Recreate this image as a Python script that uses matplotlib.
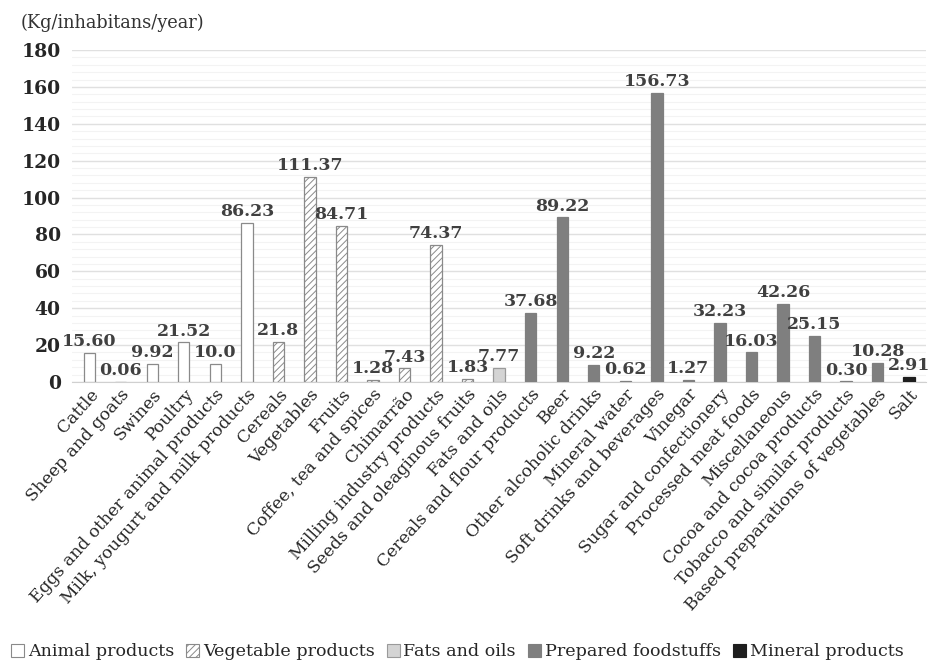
import matplotlib
matplotlib.use("Agg")
import matplotlib.pyplot as plt
from matplotlib.patches import Patch
import numpy as np

categories = ["Cattle", "Sheep and goats", "Swines", "Poultry",
              "Eggs and other animal products", "Milk, yougurt and milk products",
              "Cereals", "Vegetables", "Fruits", "Coffee, tea and spices", "Chimarrão",
              "Milling industry products", "Seeds and oleaginous fruits",
              "Fats and oils", "Cereals and flour products", "Beer",
              "Other alcoholic drinks", "Mineral water", "Soft drinks and beverages",
              "Vinegar", "Sugar and confectionery", "Processed meat foods",
              "Miscellaneous", "Cocoa and cocoa products", "Tobacco and similar products",
              "Based preparations of vegetables", "Salt"]
values = [15.60, 0.06, 9.92, 21.52, 10.0, 86.23,
          21.8, 111.37, 84.71, 1.28, 7.43, 74.37, 1.83,
          7.77, 37.68, 89.22, 9.22, 0.62, 156.73, 1.27, 32.23, 16.03, 42.26,
          25.15, 0.30, 10.28, 2.91]
value_labels = ["15.60", "0.06", "9.92", "21.52", "10.0", "86.23",
                "21.8", "111.37", "84.71", "1.28", "7.43", "74.37", "1.83",
                "7.77", "37.68", "89.22", "9.22", "0.62", "156.73", "1.27", "32.23",
                "16.03", "42.26", "25.15", "0.30", "10.28", "2.91"]
groups = (["Animal products"] * 6 + ["Vegetable products"] * 7 + ["Fats and oils"]
          + ["Prepared foodstuffs"] * 12 + ["Mineral products"])
group_names = ["Animal products", "Vegetable products", "Fats and oils",
               "Prepared foodstuffs", "Mineral products"]

styles = {
    "Animal products": dict(facecolor="white", edgecolor="#8a8a8a", hatch=None),
    "Vegetable products": dict(facecolor="white", edgecolor="#8a8a8a", hatch="/////"),
    "Fats and oils": dict(facecolor="#d4d4d4", edgecolor="#9a9a9a", hatch=None),
    "Prepared foodstuffs": dict(facecolor="#7f7f7f", edgecolor="#7f7f7f", hatch=None),
    "Mineral products": dict(facecolor="#1e1e1e", edgecolor="#1e1e1e", hatch=None),
}

plt.rcParams["font.family"] = ["DejaVu Serif"]
plt.rcParams["hatch.linewidth"] = 0.7

fig = plt.figure(figsize=(9.33, 6.64), dpi=100)
ax = fig.add_axes([0.077, 0.4247, 0.916, 0.5])

x = np.arange(len(categories))
for xi, v, g in zip(x, values, groups):
    st = styles[g]
    ax.bar(xi, v, width=0.36, facecolor=st["facecolor"], edgecolor=st["edgecolor"],
           hatch=st["hatch"], linewidth=0.9, zorder=3)

for xi, v, lab in zip(x, values, value_labels):
    ax.text(xi, v + 1.5, lab, ha="center", va="bottom", fontsize=12.5,
            fontweight="bold", color="#404040", zorder=4)

ax.set_xlim(-0.55, len(categories) - 0.45)
ax.set_ylim(0, 180)
ax.set_yticks(np.arange(0, 181, 20))
ax.set_yticks(np.arange(0, 181, 4), minor=True)
ax.grid(axis="y", which="major", color="#e0e0e0", linewidth=1.0, zorder=0)
ax.grid(axis="y", which="minor", color="#f3f3f3", linewidth=0.8, zorder=0)
ax.set_axisbelow(True)
for s in ax.spines.values():
    s.set_visible(False)
ax.spines["bottom"].set_visible(True)
ax.spines["bottom"].set_color("#d0d0d0")

ax.tick_params(axis="y", which="both", length=0, pad=8)
ax.tick_params(axis="x", length=0, pad=3)
for t in ax.get_yticklabels():
    t.set_fontweight("bold")
    t.set_fontsize(13.5)
    t.set_color("#262626")

ax.set_xticks(x)
ax.set_xticklabels(categories, rotation=48, ha="right", rotation_mode="anchor",
                   fontsize=12.3, color="#262626")

fig.text(0.022, 0.965, "(Kg/inhabitans/year)", fontsize=12.8, color="#333333",
         ha="left", va="center")

handles = [Patch(facecolor=styles[g]["facecolor"], edgecolor=styles[g]["edgecolor"],
                 hatch=styles[g]["hatch"], linewidth=0.8) for g in group_names]
fig.legend(handles, group_names, loc="lower left", bbox_to_anchor=(-0.005, -0.018),
           ncol=5, frameon=False, fontsize=12.6, handlelength=0.75, handleheight=0.75,
           handletextpad=0.2, columnspacing=0.7, labelcolor="#262626")

fig.savefig("out.png", dpi=100)
